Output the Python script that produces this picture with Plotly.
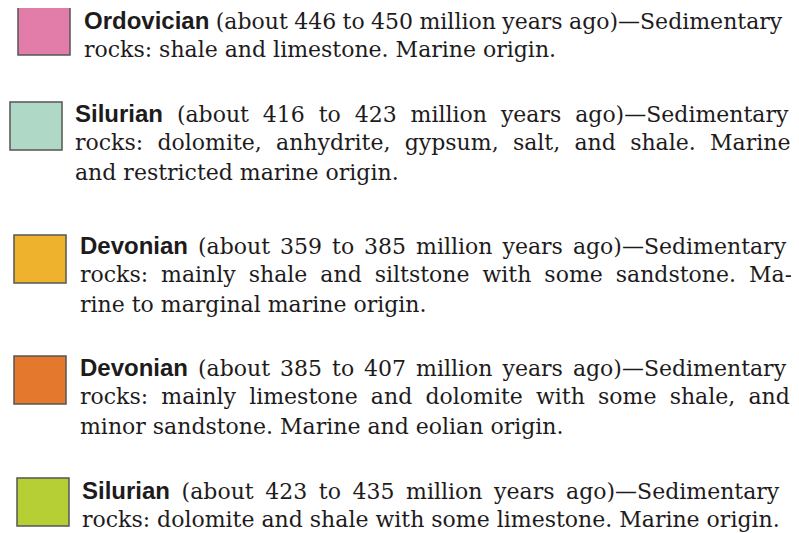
import plotly.graph_objects as go

# ---- data ----
periods = ["Ordovician", "Silurian", "Devonian", "Devonian", "Silurian"]
ages = [
    "(about 446 to 450 million years ago)\u2014Sedimentary",
    "(about 416 to 423 million years ago)\u2014Sedimentary",
    "(about 359 to 385 million years ago)\u2014Sedimentary",
    "(about 385 to 407 million years ago)\u2014Sedimentary",
    "(about 423 to 435 million years ago)\u2014Sedimentary",
]
desc_lines = [
    ["rocks: shale and limestone. Marine origin."],
    ["rocks: dolomite, anhydrite, gypsum, salt, and shale. Marine",
     "and restricted marine origin."],
    ["rocks: mainly shale and siltstone with some sandstone. Ma-",
     "rine to marginal marine origin."],
    ["rocks: mainly limestone and dolomite with some shale, and",
     "minor sandstone. Marine and eolian origin."],
    ["rocks: dolomite and shale with some limestone. Marine origin."],
]
colors = ["#E27DA9", "#AFD8C6", "#EEB22D", "#E4792D", "#B6CF35"]

# ---- layout (pixel geometry, in window pixels; page body has an 8px margin) ----
OFF = 8
W, H = 799, 533
box_x0 = [18, 10, 14, 14, 17]
box_y0 = [7, 102, 235, 356, 478]
box_w, box_h = 52, 48
text_x = [82, 73, 78, 78, 80]
line_y0 = [20, 113, 245, 367, 490]
line_gap = 29.5
# extra word spacing (px) per line for the justified setting
word_space = [
    [-0.6, 0],
    [6.9, 7.3, 0],
    [3, 6, 0],
    [3, 6.2, 0],
    [4.6, 0],
]

body_font = "DejaVu Serif"
body_size = 22
head_font = "Liberation Sans"
head_size = 24
ink = "#1E1B1C"

fig = go.Figure()
shapes = []
annotations = []
for i in range(len(periods)):
    shapes.append(dict(type="rect", xref="x", yref="y",
                       x0=box_x0[i], x1=box_x0[i] + box_w,
                       y0=box_y0[i], y1=box_y0[i] + box_h,
                       fillcolor=colors[i],
                       line=dict(color="#555555", width=1.5)))
    lines = [(periods[i], ages[i])] + [(None, d) for d in desc_lines[i]]
    for j, (head, body) in enumerate(lines):
        ws = word_space[i][j]
        txt = body
        if head:
            txt = (f"<span style='font-family:{head_font};font-weight:bold;"
                   f"font-size:{head_size}px'>{head}</span> {body}")
        txt = f"<span style='word-spacing:{ws}px'>{txt}</span>" if ws else txt
        annotations.append(dict(x=text_x[i], y=line_y0[i] + j * line_gap,
                                xref="x", yref="y", text=txt, showarrow=False,
                                xanchor="left", yanchor="middle",
                                font=dict(family=body_font, size=body_size, color=ink)))

fig.update_layout(
    width=W - OFF, height=H - OFF, margin=dict(l=0, r=0, t=0, b=0),
    paper_bgcolor="white", plot_bgcolor="white",
    xaxis=dict(range=[OFF, W], visible=False, fixedrange=True),
    yaxis=dict(range=[H, OFF], visible=False, fixedrange=True),
    shapes=shapes, annotations=annotations, showlegend=False,
)
fig.write_html("out.html", config={"displayModeBar": False})
